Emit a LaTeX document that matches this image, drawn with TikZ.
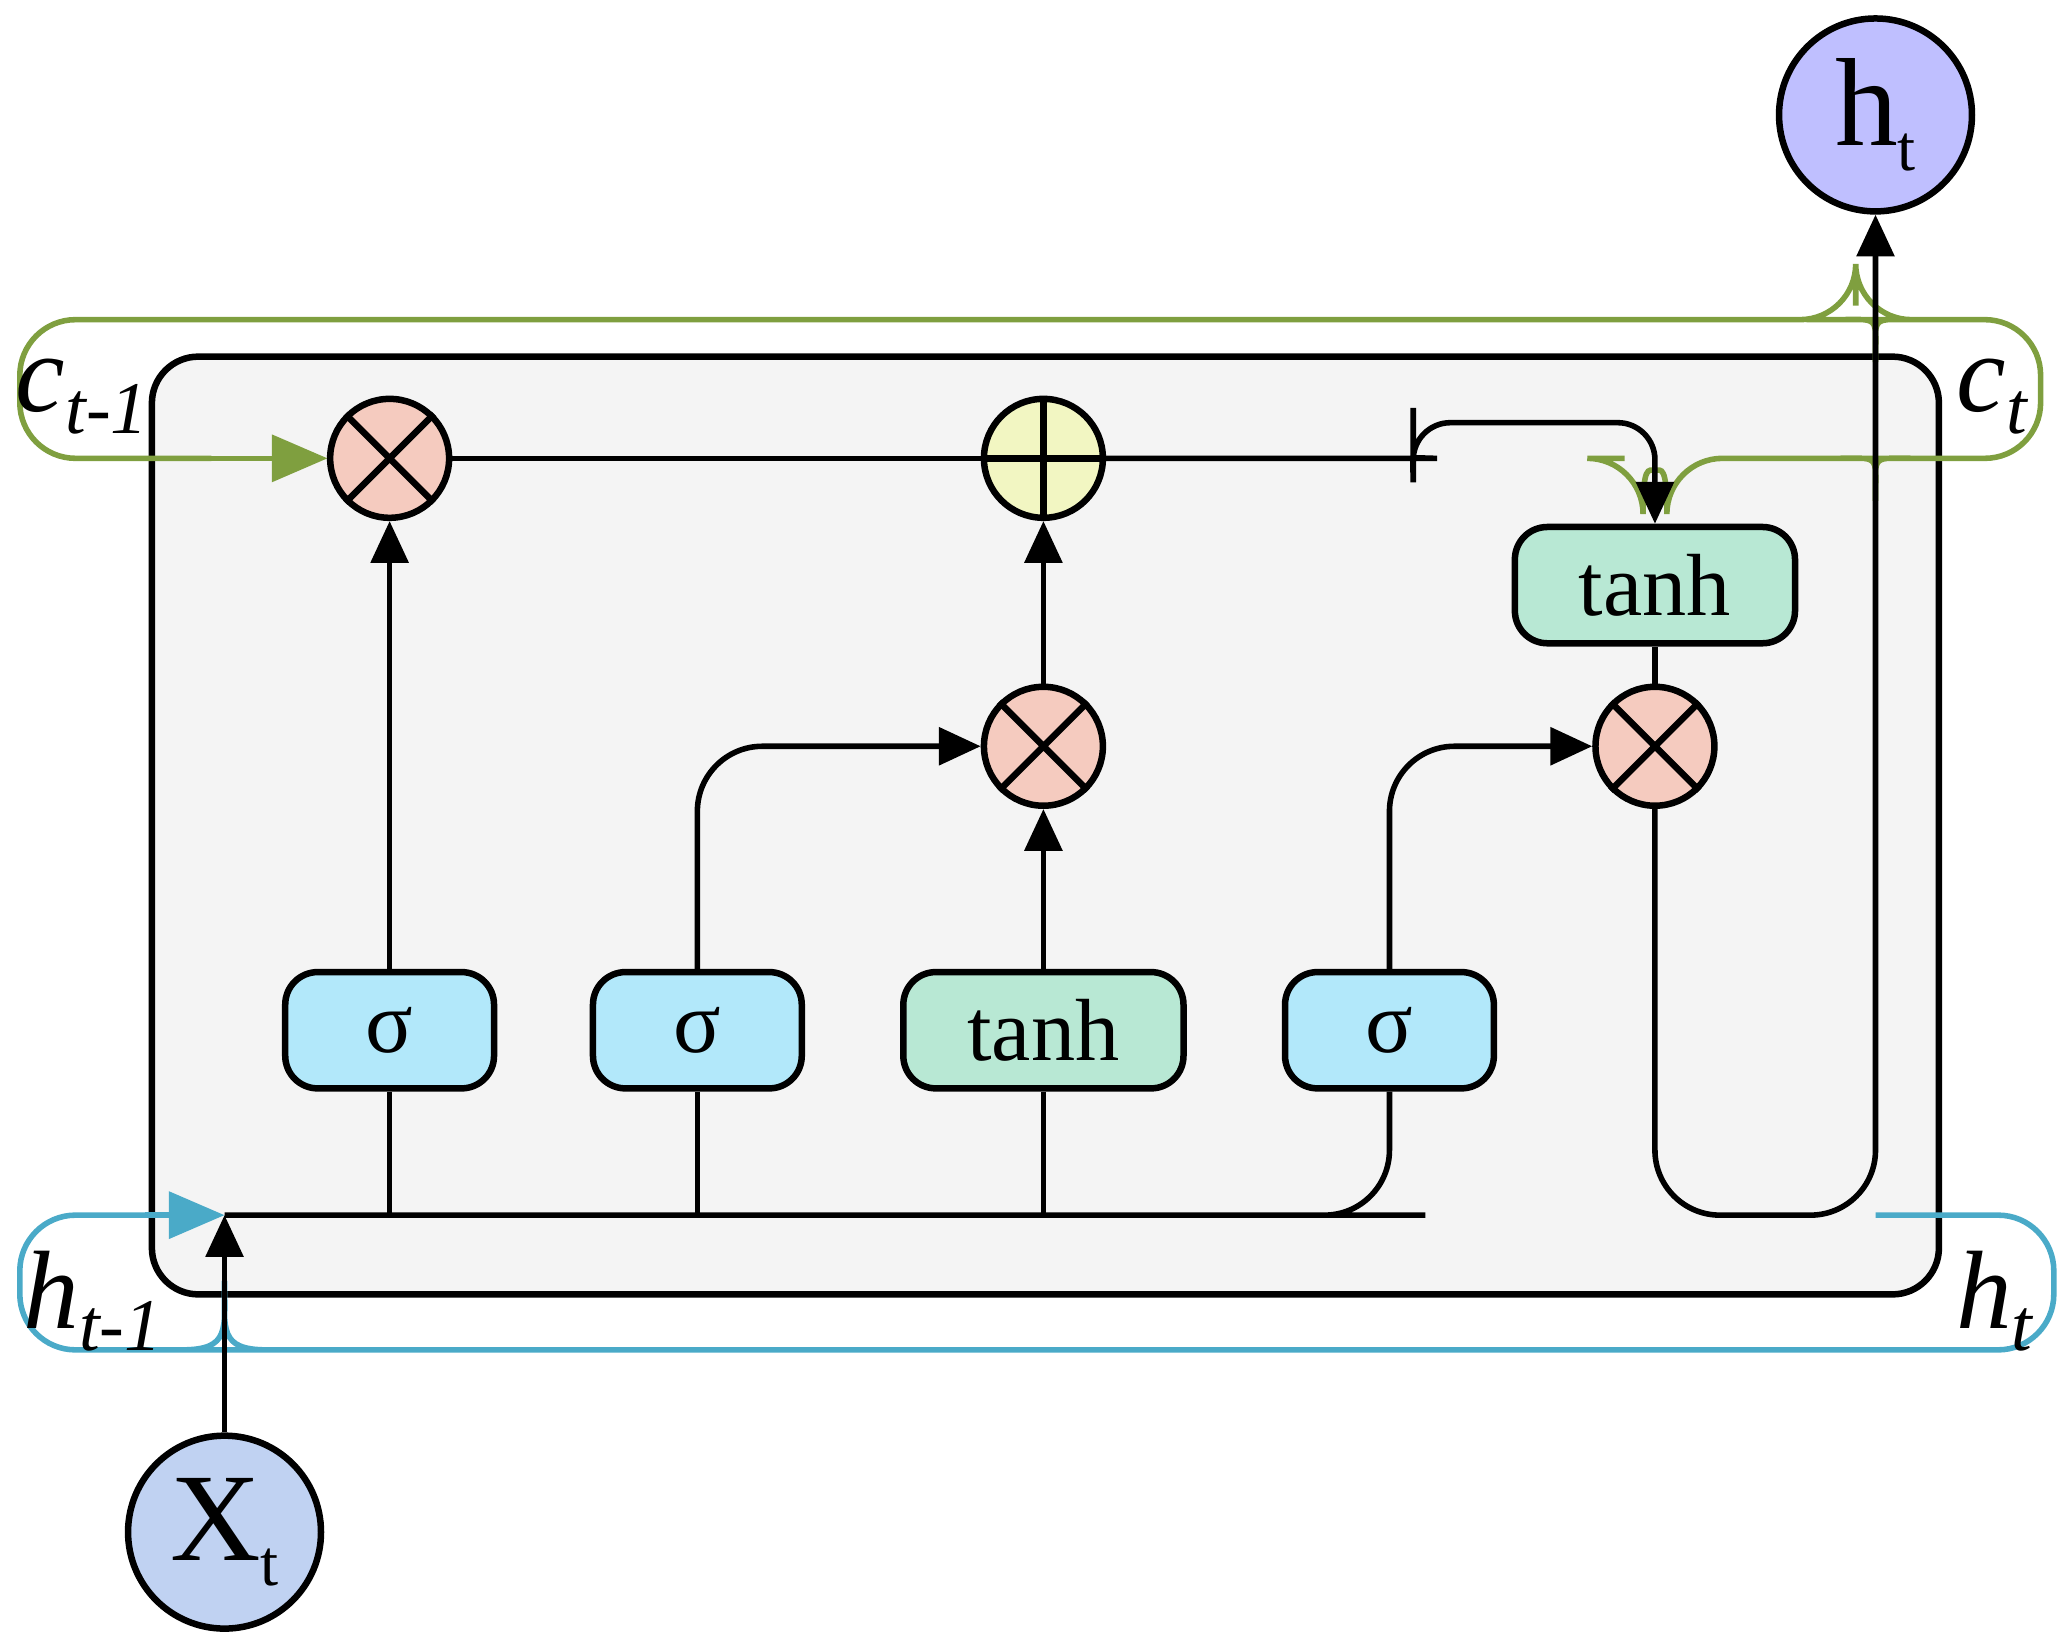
\documentclass[tikz,border=0pt]{standalone}
\usepackage{fontspec}
\setmainfont{Liberation Serif}
\usetikzlibrary{arrows.meta}
\definecolor{cellbg}{HTML}{F4F4F4}
\definecolor{pinkop}{HTML}{F5CBBF}
\definecolor{yellowop}{HTML}{F2F6C2}
\definecolor{sigblue}{HTML}{B2E8FA}
\definecolor{tanhgreen}{HTML}{B8E8D4}
\definecolor{hcirc}{HTML}{BFBFFF}
\definecolor{xcirc}{HTML}{C0D2F2}
\definecolor{cgreen}{HTML}{7F9F3F}
\definecolor{hblue}{HTML}{4AAAC8}
\begin{document}
\begin{tikzpicture}[x=0.01cm,y=-0.01cm,
  wire/.style={line width=1.2pt,rounded corners=14},
  arr/.style={wire,-{Triangle[length=9pt,width=8pt]}},
  op/.style={circle,draw,line width=1.4pt,minimum size=0.9cm,inner sep=0},
  gate/.style={draw,line width=1.4pt,rounded corners=7,minimum width=1.58cm,minimum height=0.88cm,font=\fontsize{19}{22}\selectfont},
  io/.style={circle,draw,line width=1.4pt,minimum size=1.46cm,inner sep=0,font=\fontsize{27}{30}\selectfont},
  lbl/.style={font=\fontsize{24}{28}\selectfont\itshape}]
\useasboundingbox (0,0) rectangle (1568,1250);
% cell
\draw[line width=1.4pt,fill=cellbg,rounded corners=10] (115,270) rectangle (1468,980);
% green cell-state bracket
\draw[cgreen,line width=1.2pt,rounded corners=12]
  (160,347) -- (15,347) -- (15,242) -- (1405,242) arc[start angle=180,end angle=90,radius=0] -- (1410,242) to[out=0,in=-90] (1420,232) to[out=-90,in=180] (1430,242) -- (1545,242) -- (1545,347) -- (1430,347) to[out=180,in=-90] (1420,337) to[out=-90,in=0] (1410,347) -- (1262,347) arc[start angle=0,end angle=180,radius=9] -- (1230,347);
\draw[cgreen,line width=1.2pt,-{Triangle[length=12pt,width=10pt]}] (150,347) -- (248,347);
% blue hidden-state bracket
\draw[hblue,line width=1.2pt,rounded corners=12]
  (1420,920) -- (1555,920) -- (1555,1022) -- (180,1022) to[out=180,in=90] (170,1012) to[out=90,in=0] (160,1022) -- (15,1022) -- (15,920) -- (120,920);
\draw[hblue,line width=1.2pt,-{Triangle[length=12pt,width=10pt]}] (110,920) -- (170,920);
% nodes
\node[op,fill=pinkop] (m1) at (295,347) {};
\node[op,fill=yellowop] (ad) at (790,347) {};
\node[op,fill=pinkop] (m2) at (790,565) {};
\node[op,fill=pinkop] (m3) at (1253,565) {};
\foreach \n in {m1,m2,m3}{
  \draw[line width=1.4pt] (\n.45) -- (\n.225) (\n.135) -- (\n.-45);}
\draw[line width=1.4pt] (ad.north) -- (ad.south) (ad.west) -- (ad.east);
\node[gate,fill=sigblue] (s1) at (295,780) {σ};
\node[gate,fill=sigblue] (s2) at (528,780) {σ};
\node[gate,fill=tanhgreen,minimum width=2.12cm] (t1) at (790,780) {tanh};
\node[gate,fill=sigblue] (s3) at (1052,780) {σ};
\node[gate,fill=tanhgreen,minimum width=2.12cm] (t2) at (1253,443) {tanh};
\node[io,fill=hcirc] (ht) at (1420,87) {h\raisebox{-0.2em}{\fontsize{14}{14}\selectfont t}};
\node[io,fill=xcirc] (xt) at (170,1160) {X\raisebox{-0.2em}{\fontsize{14}{14}\selectfont t}};
\coordinate (bus) at (170,920);
% connectors
\draw[arr] (xt) -- (bus);
\draw[wire] (bus) -- (1030,920) -- (1052,920) -- (s3.south);
\draw[wire] (s1.south) -- (s1.south |- bus);
\draw[wire] (s2.south) -- (s2.south |- bus);
\draw[wire] (t1.south) -- (t1.south |- bus);
\draw[arr] (s1) -- (m1);
\draw[arr] (s2.north) -- (528,565) -- (m2);
\draw[arr] (t1) -- (m2);
\draw[arr] (m2) -- (ad);
\draw[arr] (s3.north) -- (1052,565) -- (m3);
\draw[wire] (t2) -- (m3);
\draw[wire] (m1) -- (ad);
\draw[arr,rounded corners=8] (ad) -- (1060,347) to[out=0,in=-90] (1070,337) -- (1070,320) -- (1253,320) -- (t2.north);
\draw[arr] (m3.south) -- (1253,920) -- (1420,920) -- (ht);
% labels
\node[lbl] (cl) at (62,300) {c\raisebox{-0.2em}{\fontsize{16}{16}\selectfont t-1}};
\node[lbl] (cr) at (1508,300) {c\raisebox{-0.2em}{\fontsize{16}{16}\selectfont t}};
\node[lbl] (hl) at (70,985) {h\raisebox{-0.2em}{\fontsize{16}{16}\selectfont t-1}};
\node[lbl] (hr) at (1510,985) {h\raisebox{-0.2em}{\fontsize{16}{16}\selectfont t}};
\end{tikzpicture}
\end{document}
